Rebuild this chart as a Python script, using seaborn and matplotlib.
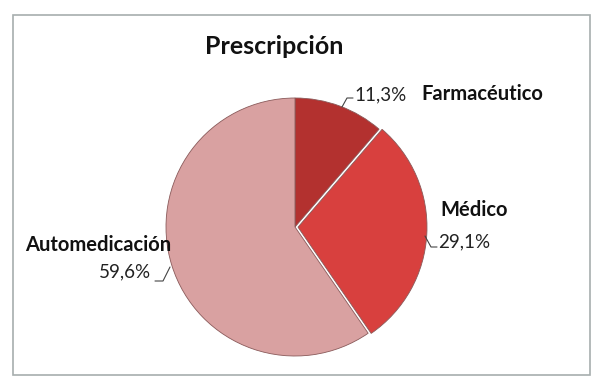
import matplotlib
matplotlib.use("Agg")
import matplotlib.pyplot as plt
from matplotlib.patches import Rectangle
import seaborn as sns

categories = ["Farmacéutico", "Médico", "Automedicación"]
shares = [11.3, 29.1, 59.6]
slice_colors = ["#b3312f", "#d8403e", "#d9a1a1"]

sns.set_theme(style="white")
plt.rcParams['font.family'] = ['Lato', 'DejaVu Sans']

W, H = 600, 390
fig = plt.figure(figsize=(6, 3.9), dpi=100)
ax = fig.add_axes([0, 0, 1, 1])
ax.set_xlim(0, W)
ax.set_ylim(0, H)
ax.set_aspect('equal')
ax.axis('off')

# chart frame
ax.add_patch(Rectangle((13, H - 375), 577, 360, fill=False,
                       edgecolor="#a7aeae", linewidth=1.2))

cx, cy, r = 295, H - 227, 129
wedges, _ = ax.pie(shares, colors=slice_colors, startangle=90, counterclock=False,
                   radius=r, center=(cx, cy), explode=[0, 3, 0],
                   wedgeprops=dict(edgecolor="#8a5a5a", linewidth=0.6))
ax.set_xlim(0, W)
ax.set_ylim(0, H)

ax.text(274, H - 47, "Prescripción", fontsize=18, fontweight="bold",
        ha="center", va="center", color="#111111")

# labels: (category pos, percent pos, leader line) in pixel coords from top
lbl = {
    "Farmacéutico": dict(name=(421, 94, "left"), pct=(354, 95, "left"),
                         line=[(342, 107), (347, 98), (353, 98)]),
    "Médico": dict(name=(440, 210, "left"), pct=(438, 242, "left"),
                   line=[(425, 236), (431, 247), (437, 247)]),
    "Automedicación": dict(name=(25, 245, "left"), pct=(151, 272, "right"),
                           line=[(170, 267), (163, 281), (155, 281)]),
}
for cat, val in zip(categories, shares):
    d = lbl[cat]
    x, y, ha = d["name"]
    ax.text(x, H - y, cat, fontsize=14.5, fontweight="bold", ha=ha, va="center",
            color="#111111")
    x, y, ha = d["pct"]
    ax.text(x, H - y, f"{val:.1f}%".replace(".", ","), fontsize=13.5, ha=ha,
            va="center", color="#222222")
    xs = [p[0] for p in d["line"]]
    ys = [H - p[1] for p in d["line"]]
    ax.plot(xs, ys, color="#444444", linewidth=0.8)

fig.savefig("out.png", dpi=100)
